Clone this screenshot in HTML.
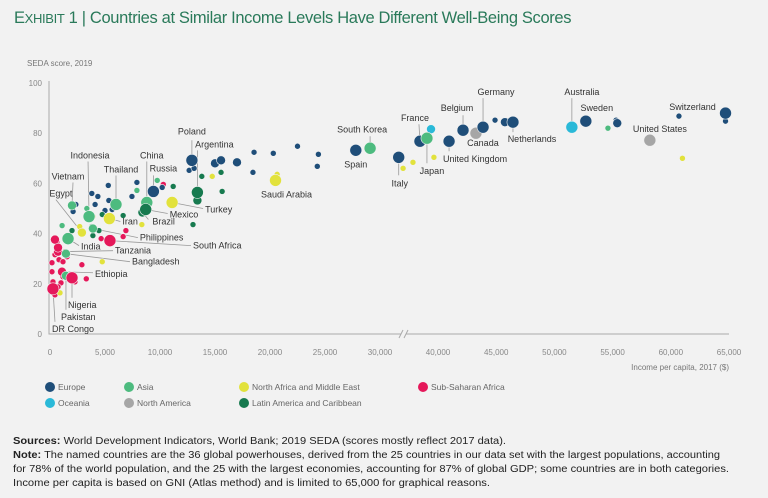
<!DOCTYPE html>
<html><head><meta charset="utf-8"><style>
body{margin:0;background:#f2f2f2;font-family:"Liberation Sans",sans-serif;}
#wrap{position:relative;width:768px;height:498px;overflow:hidden;}
.title{position:absolute;left:14px;top:9px;font-size:16.5px;letter-spacing:-0.35px;color:#2a7a5a;white-space:nowrap;}
</style></head><body>
<div id="wrap">
<div class="title">E<span style="font-size:13px">XHIBIT</span> 1 | Countries at Similar Income Levels Have Different Well-Being Scores</div>
<svg id="svg" width="768" height="498" style="position:absolute;left:0;top:0">
<g font-size="10" fill="#222">
<text x="13" y="444" textLength="493" lengthAdjust="spacingAndGlyphs"><tspan font-weight="bold">Sources:</tspan> World Development Indicators, World Bank; 2019 SEDA (scores mostly reflect 2017 data).</text>
<text x="13" y="458" textLength="707" lengthAdjust="spacingAndGlyphs"><tspan font-weight="bold">Note:</tspan> The named countries are the 36 global powerhouses, derived from the 25 countries in our data set with the largest populations, accounting</text>
<text x="13" y="472" textLength="716" lengthAdjust="spacingAndGlyphs">for 78% of the world population, and the 25 with the largest economies, accounting for 87% of global GDP; some countries are in both categories.</text>
<text x="13" y="486" textLength="477" lengthAdjust="spacingAndGlyphs">Income per capita is based on GNI (Atlas method) and is limited to 65,000 for graphical reasons.</text>
</g>
</svg>
</div>
<script>
const yTicks=[0,20,40,60,80,100];
const xTicksLeft=[0,5000,10000,15000,20000,25000,30000];
const xTicksRight=[40000,45000,50000,55000,60000,65000];
const regionNames=["Europe","Asia","North Africa and Middle East","Sub-Saharan Africa","Oceania","North America","Latin America and Caribbean"];
const regionCodes=["E","A","M","S","O","N","L"];
// [income, score, region, popClass, label]
const points=[
[12900,69.2,"E",3,"Poland"],[13400,56.4,"L",3,"Argentina"],[9400,56.8,"E",3,"Russia"],[8800,52.4,"A",3,"China"],
[8700,49.6,"L",3,"Mexico"],[8400,48.4,"L",2,"Brazil"],[11100,52.4,"M",3,"Turkey"],[5400,46,"M",3,"Iran"],
[6000,51.6,"A",3,"Thailand"],[3550,46.8,"A",3,"Indonesia"],[2000,51.2,"A",2,"Vietnam"],[2900,40.4,"M",2,"Egypt"],
[1640,38,"A",3,"India"],[3900,42,"A",2,"Philippines"],[5450,37.2,"S",3,"South Africa"],[730,32.8,"S",2,"Tanzania"],
[1450,32,"A",2,"Bangladesh"],[1090,24.8,"S",2,"Ethiopia"],[2000,22.4,"S",3,"Nigeria"],[1450,23.2,"A",2,"Pakistan"],
[270,18,"S",3,"DR Congo"],[20500,61.2,"M",3,"Saudi Arabia"],[29100,74,"A",3,"South Korea"],[27800,73.2,"E",3,"Spain"],
[31700,70.4,"E",3,"Italy"],[38450,76.8,"E",3,"France"],[39050,78,"A",3,"Japan"],[40950,76.8,"E",3,"United Kingdom"],
[42150,81.2,"E",3,"Belgium"],[43260,80,"N",3,"Canada"],[43870,82.4,"E",3,"Germany"],[46440,84.4,"E",3,"Netherlands"],
[51500,82.4,"O",3,"Australia"],[52700,84.8,"E",3,"Sweden"],[58200,77.2,"N",3,"United States"],[64700,88,"E",3,"Switzerland"],
[39400,81.6,"O",2,""],[32100,66,"M",1,""],[37850,68.4,"M",1,""],[39650,70.4,"M",1,""],[44900,85.2,"E",1,""],[45750,84.4,"E",2,""],
[54600,82,"A",1,""],[55300,85.2,"E",1,""],[55400,84,"E",2,""],[61000,70,"M",1,""],[60700,86.8,"E",1,""],[64700,84.8,"E",1,""],
[12650,65.2,"E",1,""],[13100,66,"E",1,""],[15000,68,"E",2,""],[15550,69.2,"E",2,""],[17000,68.4,"E",2,""],[18550,72.4,"E",1,""],
[20300,72,"E",1,""],[22500,74.8,"E",1,""],[24400,71.6,"E",1,""],[24300,66.8,"E",1,""],[18450,64.4,"E",1,""],
[13800,62.8,"L",1,""],[15550,64.4,"L",1,""],[15650,56.8,"L",1,""],[13400,53.2,"L",2,""],[13000,43.6,"L",1,""],[11200,58.8,"L",1,""],
[14750,62.8,"M",1,""],[20650,63.6,"M",1,""],[9750,61.2,"A",1,""],[10300,59.6,"S",1,""],[10200,58.4,"E",1,""],
[5300,59.2,"E",1,""],[7900,60.4,"E",1,""],[3800,56,"E",1,""],[4350,54.8,"E",1,""],[5350,53.2,"E",1,""],[7450,54.8,"E",1,""],
[7900,57.2,"A",1,""],[5000,49.2,"E",1,""],[5650,49.6,"E",1,""],[2350,51.6,"E",1,""],[2100,48.8,"E",1,""],[4100,51.6,"E",1,""],
[3350,50,"A",1,""],[4750,47.6,"L",1,""],[6100,50.4,"L",1,""],[6650,47.2,"L",1,""],[6900,41.2,"S",1,""],[6650,38.8,"S",1,""],
[4650,38,"S",1,""],[8350,43.6,"M",1,""],[1100,43.2,"A",1,""],[2000,41.2,"L",1,""],[3000,40.4,"L",1,""],[3900,39.2,"L",1,""],
[4450,41.2,"L",1,""],[2700,42.8,"M",1,""],[3800,42.8,"L",1,""],[3900,46.8,"M",1,""],[3450,47.6,"M",1,""],
[640,36.8,"S",1,""],[1450,38.4,"S",1,""],[730,34.4,"S",2,""],[450,31.6,"S",1,""],[180,28.4,"S",1,""],[820,29.6,"S",1,""],
[1180,28.8,"S",1,""],[1000,24.4,"S",1,""],[1180,22.8,"S",1,""],[270,20.8,"S",1,""],[550,17.6,"S",1,""],[450,15.6,"S",1,""],
[2900,27.6,"S",1,""],[3300,22,"S",1,""],[2270,20.8,"S",1,""],[1000,20.4,"S",1,""],[180,24.8,"S",1,""],[1550,30.8,"S",1,""],
[1360,32.8,"S",1,""],[730,18.8,"S",1,""],[910,16.4,"M",1,""],[4750,28.8,"M",1,""],[1800,38.8,"A",1,""],[450,37.6,"S",2,""]
];
// label placement: [textDx, textDy, anchor, lineDx, lineDy] (lineDx null = no leader)
const labelPos={
"Poland":[0,-26,"middle",0,-20],"Argentina":[17,-45,"middle",0,-42],"China":[5,-44,"middle",0,-41],"Russia":[10,-20,"middle",0,-16],
"Thailand":[5,-32,"middle",0,-29],"Indonesia":[1,-58,"middle",-1,-55],"Vietnam":[-4,-26,"middle",1,-23],"Egypt":[-21,-36,"middle",-26,-33],
"India":[13,11,"start",11,7],"Philippines":[47,12,"start",45,9],"South Africa":[83,8,"start",81,5],"Tanzania":[57,2,"start",55,-1],
"Bangladesh":[66,11,"start",64,8],"Ethiopia":[33,5,"start",31,1],"Nigeria":[-4,30,"start",0,20],"Pakistan":[-5,44,"start",0,34],
"DR Congo":[-1,43,"start",2,33],"Mexico":[24,8,"start",22,4],"Brazil":[10,12,"start",6,7],"Turkey":[33,10,"start",31,6],
"Iran":[13,6,"start",11,3],"Saudi Arabia":[11,17,"middle",null,0],"South Korea":[-8,-16,"middle",0,-12],"Spain":[0,17,"middle",null,0],
"Italy":[1,29,"middle",0,18],"France":[-5,-20,"middle",-1,-17],"Japan":[5,36,"middle",0,25],"United Kingdom":[-6,21,"start",0,10],
"Belgium":[-6,-19,"middle",0,-15],"Canada":[7,13,"middle",null,0],"Germany":[13,-32,"middle",0,-29],"Netherlands":[19,20,"middle",0,10],
"Australia":[10,-32,"middle",0,-29],"Sweden":[11,-10,"middle",null,0],"United States":[10,-8,"middle",null,0],"Switzerland":[-33,-3,"middle",null,0]
};
const colors={E:"#1f4e79",A:"#4dbb7f",M:"#e2e23c",S:"#e5185a",O:"#2ab9d8",N:"#a6a6a6",L:"#177a4f"};
const radius={1:3,2:4.5,3:6};
const NS="http://www.w3.org/2000/svg",svg=document.getElementById("svg");
function xs(v){return v<=34000?50+v*0.011:438+(v-40000)*0.01164;}
function ys(v){return 334-v*2.51;}
function mk(t,a,p){const e=document.createElementNS(NS,t);for(const k in a)e.setAttribute(k,a[k]);(p||svg).appendChild(e);return e;}
function txt(x,y,s,a,p){const e=mk("text",Object.assign({x:x,y:y},a),p);e.textContent=s;return e;}
let t=txt(27,66,"SEDA score, 2019",{"font-size":"8","fill":"#777"});

let ax=mk("path",{d:"M49,81V334H401M406,334H729",stroke:"#aaa","stroke-width":"1",fill:"none"});

let br=mk("path",{d:"M399,338L403,330M404,338L408,330",stroke:"#aaa","stroke-width":"1",fill:"none"});

yTicks.forEach(v=>{const e=txt(42,ys(v)+3,String(v),{"font-size":"8","fill":"#888","text-anchor":"end"});
});
xTicksLeft.concat(xTicksRight).forEach(v=>{const e=txt(xs(v),355,v.toLocaleString("en-US"),{"font-size":"8","fill":"#888","text-anchor":"middle"});
});
t=txt(729,370,"Income per capita, 2017 ($)",{"font-size":"8","fill":"#777","text-anchor":"end"});

const lg=mk("g",{});
points.forEach(p=>{if(!p[4])return;const L=labelPos[p[4]];const cx=xs(p[0]),cy=ys(p[1]);
 if(L[3]!==null){const l=mk("line",{x1:cx,y1:cy,x2:cx+L[3],y2:cy+L[4],stroke:"#999","stroke-width":"0.8"},lg);
 }});
const pg=mk("g",{});
points.slice().sort((a,b)=>a[3]-b[3]).forEach(p=>{
 const c=mk("circle",{cx:xs(p[0]),cy:ys(p[1]),r:radius[p[3]],fill:colors[p[2]],stroke:"#f2f2f2","stroke-width":"0.6"},pg);
 
 });
points.forEach(p=>{if(!p[4])return;const L=labelPos[p[4]];const cx=xs(p[0]),cy=ys(p[1]);
 const e=txt(cx+L[0],cy+L[1],p[4],{"font-size":"9","fill":"#333","text-anchor":L[2]});
 });
const legX=[50,129,244,423];
const legOrder=[[0,0],[1,1],[2,2],[3,3],[4,0],[5,1],[6,2]];
legOrder.forEach((o,i)=>{const row=i<4?0:1;const x=legX[o[1]],y=387+row*16;
 const g=mk("g",{});
 mk("circle",{cx:x,cy:y,r:5,fill:colors[regionCodes[o[0]]]},g);
 txt(x+8,y+3,regionNames[o[0]],{"font-size":"8.5","fill":"#666"},g);});
</script>
</body></html>
